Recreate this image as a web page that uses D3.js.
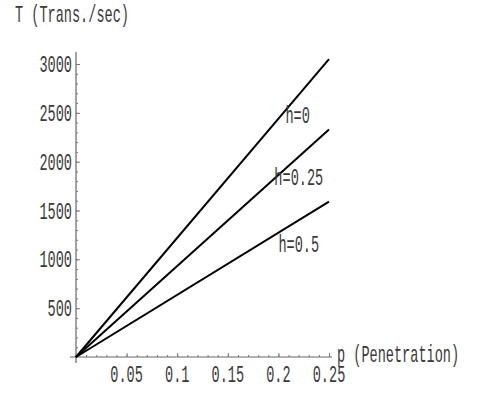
<!DOCTYPE html>
<html>
<head>
<meta charset="utf-8">
<script src="https://cdn.jsdelivr.net/npm/d3@7"></script>
<style>
  body { margin: 0; background: #fff; }
  svg { display: block; }
  .lbl { font-family: "Liberation Mono", "DejaVu Sans Mono", monospace; font-size: 23px; fill: #3a3a3a; }
  .axis path, .axis line { stroke: #777; }
</style>
</head>
<body>
<svg width="482" height="393"></svg>
<script>
const pValues = [0, 0.25];
const seriesNames = ["h=0", "h=0.25", "h=0.5"];
const seriesValues = [
  [0, 3050],
  [0, 2330],
  [0, 1590]
];
const xTicks = [0.05, 0.1, 0.15, 0.2, 0.25];
const xTickLabels = ["0.05", "0.1", "0.15", "0.2", "0.25"];
const yTicks = [500, 1000, 1500, 2000, 2500, 3000];
const yTickLabels = ["500", "1000", "1500", "2000", "2500", "3000"];
// where each curve label sits (p, T)
const labelPos = [[0.207, 2480], [0.196, 1840], [0.2, 1160]];

const svg = d3.select("svg");
const x = d3.scaleLinear().domain([0, 0.25]).range([76, 329]);
const y = d3.scaleLinear().domain([0, 3000]).range([357, 64]);

const SX = 0.59;
function label(px, py, txt, anchor) {
  svg.append("text")
    .attr("class", "lbl")
    .attr("transform", "translate(" + px + "," + py + ") scale(" + SX + ",1)")
    .attr("text-anchor", anchor || "start")
    .text(txt);
}

// axes lines
svg.append("line").attr("x1", 70).attr("x2", 332).attr("y1", y(0)).attr("y2", y(0))
  .attr("stroke", "#666").attr("stroke-width", 1.2);
svg.append("line").attr("x1", x(0)).attr("x2", x(0)).attr("y1", 52).attr("y2", 363)
  .attr("stroke", "#666").attr("stroke-width", 1.2);

// x ticks (inward, pointing up)
const xMinor = d3.range(1, 26).map(i => i / 100);
const xg = svg.append("g").attr("class", "axis").attr("transform", "translate(0," + y(0) + ")");
xg.call(d3.axisTop(x).tickValues(xMinor).tickSize(2).tickFormat(""));
xg.append("g").call(d3.axisTop(x).tickValues(xTicks).tickSize(4).tickFormat(""));
xg.selectAll(".domain").remove();

// y ticks (inward, pointing right)
const yMinor = d3.range(1, 31).map(i => i * 100);
const yg = svg.append("g").attr("class", "axis").attr("transform", "translate(" + x(0) + ",0)");
yg.call(d3.axisRight(y).tickValues(yMinor).tickSize(2).tickFormat(""));
yg.append("g").call(d3.axisRight(y).tickValues(yTicks).tickSize(4).tickFormat(""));
yg.selectAll(".domain").remove();

// tick labels
xTicks.forEach((t, i) => label(x(t), 382, xTickLabels[i], "middle"));
yTicks.forEach((t, i) => label(72, y(t) + 8, yTickLabels[i], "end"));

// axis titles
label(15, 22, "T (Trans./sec)");
label(337, 362, "p (Penetration)");

// lines
const line = d3.line().x((d, i) => x(pValues[i])).y(d => y(d));
seriesValues.forEach(vals => {
  svg.append("path")
    .datum(vals)
    .attr("d", line)
    .attr("fill", "none")
    .attr("stroke", "#000")
    .attr("stroke-width", 2);
});

seriesNames.forEach((n, i) => label(x(labelPos[i][0]), y(labelPos[i][1]) + 8, n));
</script>
</body>
</html>
